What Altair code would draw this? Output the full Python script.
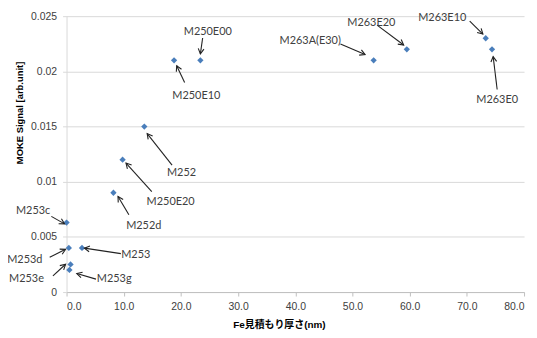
import math
import altair as alt
import pandas as pd

# ---- data ----
fe_nm = [23.4, 18.8, 53.7, 59.5, 73.3, 74.4, 13.6, 9.8, 8.2, 0.0, 0.4, 2.7, 0.7, 0.5]
moke = [0.021, 0.021, 0.021, 0.022, 0.023, 0.022, 0.015, 0.012, 0.009, 0.0063, 0.004, 0.004, 0.0025, 0.002]

labels = ["M250E00", "M250E10", "M263A(E30)", "M263E20", "M263E10", "M263E0", "M252",
          "M250E20", "M252d", "M253c", "M253d", "M253", "M253e", "M253g"]
lab_x = [24.7, 22.7, 42.6, 53.3, 65.7, 75.3, 20.1, 18.2, 13.5, -5.85, -7.3, 12.1, -7.0, 8.33]
lab_y = [0.02359, 0.01774, 0.02273, 0.0244, 0.02479, 0.01736, 0.01082, 0.00818, 0.00596,
         0.00731, 0.0029, 0.00333, 0.00117, 0.00117]
arr_x1 = [23.8, 20.65, 47.9, 54.3, 70.5, 75.3, 18.45, 14.9, 10.9, -2.66, -2.95, 9.5, -2.38, 5.15]
arr_y1 = [0.02302, 0.01898, 0.02248, 0.02419, 0.02455, 0.01835, 0.01151, 0.00911, 0.00701,
          0.00686, 0.00315, 0.00348, 0.00147, 0.00117]
arr_x2 = [23.4, 19.26, 52.2, 58.95, 72.8, 74.6, 14.1, 10.4, 9.0, -0.35, -0.17, 3.12, -0.17, 1.79]
arr_y2 = [0.02158, 0.0205, 0.02152, 0.02239, 0.02338, 0.02134, 0.01436, 0.01169, 0.00866,
          0.00618, 0.00387, 0.00398, 0.00252, 0.00168]

x_ticks = [0, 10, 20, 30, 40, 50, 60, 70, 80]
y_ticks = [0, 0.005, 0.01, 0.015, 0.02, 0.025]

W, H = 461, 278
XDOM, YDOM = [0, 80], [0, 0.025]
sx = W / (XDOM[1] - XDOM[0])
sy = H / (YDOM[1] - YDOM[0])

angles = []
for a, b, c, d in zip(arr_x1, arr_y1, arr_x2, arr_y2):
    dx = (c - a) * sx
    dy = -(d - b) * sy
    angles.append(math.degrees(math.atan2(dx, -dy)) % 360)

pts = pd.DataFrame({"x": fe_nm, "y": moke})
ann = pd.DataFrame({"label": labels, "lx": lab_x, "ly": lab_y,
                    "x1": arr_x1, "y1": arr_y1, "x2": arr_x2, "y2": arr_y2, "ang": angles})

xs = alt.Scale(domain=XDOM, nice=False, zero=False)
ys = alt.Scale(domain=YDOM, nice=False, zero=False)

xaxis = alt.Axis(
    values=x_ticks, format=".1f", grid=False, domainColor="#bfbfbf", tickColor="#bfbfbf",
    tickSize=4, labelFont="Liberation Sans", labelFontSize=10.5, labelColor="#404040",
    labelPadding=6, titleFont="Liberation Sans, Noto Sans CJK JP",
    titleFontWeight="bold", titleFontSize=10, titleColor="#000000",
    titleX=214, titleY=33, titleBaseline="middle", titleAlign="center")
yaxis = alt.Axis(
    values=y_ticks, format="~g", grid=True, gridColor="#d9d9d9", domainColor="#d9d9d9",
    tickColor="#d9d9d9", tickSize=4, labelFont="Liberation Sans", labelFontSize=10.5,
    labelColor="#404040", labelPadding=6,
    titleFont="Liberation Sans", titleFontWeight="bold", titleFontSize=9.5, titleColor="#000000",
    titleX=-47, titleY=97, titleAngle=270, titleAlign="center", titleBaseline="middle")
XT = "Fe見積もり厚さ(nm)"
YT = "MOKE Signal [arb.unit]"

points = alt.Chart(pts).mark_point(shape="diamond", filled=True, size=40, color="#4A7EBB", opacity=1).encode(
    x=alt.X("x:Q", scale=xs, axis=xaxis, title=XT),
    y=alt.Y("y:Q", scale=ys, axis=yaxis, title=YT),
)

rules = alt.Chart(ann).mark_rule(color="#222222", strokeWidth=1.1).encode(
    x=alt.X("x1:Q", scale=xs, axis=xaxis, title=XT), y=alt.Y("y1:Q", scale=ys, axis=yaxis, title=YT),
    x2="x2:Q", y2="y2:Q")

heads = alt.Chart(ann).mark_point(shape="M -0.55 1 L 0 0 L 0.55 1", filled=False, size=110,
                                  color="#222222", strokeWidth=1.1, opacity=1).encode(
    x=alt.X("x2:Q", scale=xs, axis=xaxis, title=XT), y=alt.Y("y2:Q", scale=ys, axis=yaxis, title=YT),
    angle=alt.Angle("ang:Q", scale=None))

texts = alt.Chart(ann).mark_text(font="Lato", fontSize=11, color="#404040", align="center",
                                 baseline="middle").encode(
    x=alt.X("lx:Q", scale=xs, axis=xaxis, title=XT), y=alt.Y("ly:Q", scale=ys, axis=yaxis, title=YT),
    text="label:N")

chart = alt.layer(points, rules, heads, texts).properties(
    width=W, height=H,
    autosize=alt.AutoSizeParams(type="none"),
    padding={"left": 59, "top": 7, "right": 5, "bottom": 37},
    background="white",
).configure_view(stroke=None)

chart.save("out.html", embed_options={"renderer": "svg", "actions": False})
